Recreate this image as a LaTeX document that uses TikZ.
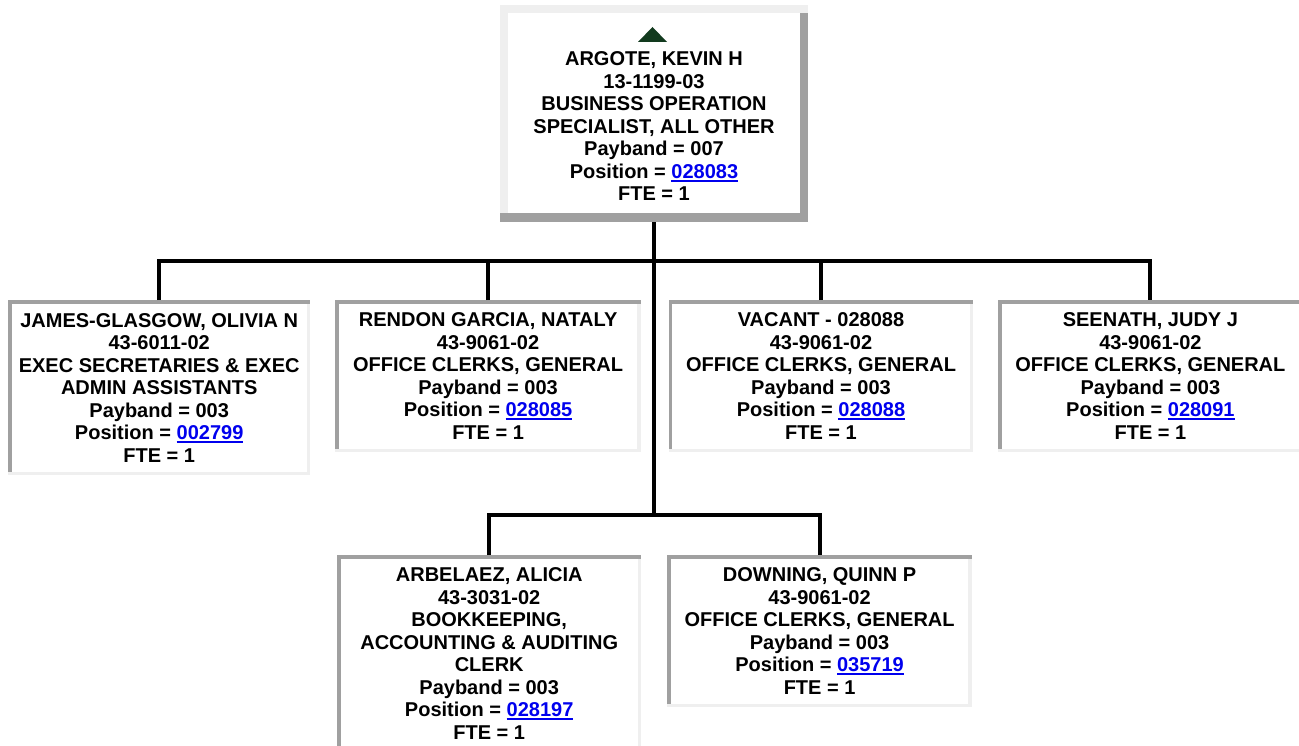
\documentclass[tikz,border=0pt]{standalone}
\usepackage{fontspec}
\setmainfont{Liberation Sans}
\usepackage{tikz}
\usetikzlibrary{positioning}
\definecolor{linkblue}{RGB}{0, 0, 238}
\definecolor{bevdark}{RGB}{160, 160, 160}
\definecolor{bevlight}{RGB}{239, 239, 239}
\definecolor{marker}{RGB}{18, 58, 30}
\newcommand{\poslink}[1]{\textcolor{linkblue}{\setbox0=\hbox{#1}\rlap{\rule[-3.5pt]{\wd0}{2pt}}\box0}}

\begin{document}
\begin{tikzpicture}[
    x=1pt, y=-1pt,
    orgbox/.style={rectangle, fill=white, align=center, inner sep=0pt, font=\fontsize{20}{22.5}\selectfont\bfseries},
    conn/.style={line width=4pt}
]
\useasboundingbox (0,0) rectangle (1299,746);

\node[orgbox, minimum width=308, minimum height=217, anchor=north] (argote) at (654,5) {\rule{0pt}{16.5pt}\\ARGOTE, KEVIN H\\13-1199-03\\BUSINESS OPERATION\\SPECIALIST, ALL OTHER\\Payband = 007\\Position = \poslink{028083}\\FTE = 1};

\node[orgbox, minimum width=302, minimum height=175, anchor=north west] (glasgow) at (8,300) {JAMES-GLASGOW, OLIVIA N\\43-6011-02\\EXEC SECRETARIES \& EXEC\\ADMIN ASSISTANTS\\Payband = 003\\Position = \poslink{002799}\\FTE = 1};
\node[orgbox, minimum width=305, minimum height=152, right=25pt of glasgow.north east, anchor=north west] (rendon) {RENDON GARCIA, NATALY\\43-9061-02\\OFFICE CLERKS, GENERAL\\Payband = 003\\Position = \poslink{028085}\\FTE = 1};
\node[orgbox, minimum width=304, minimum height=152, right=28pt of rendon.north east, anchor=north west] (vacant) {VACANT - 028088\\43-9061-02\\OFFICE CLERKS, GENERAL\\Payband = 003\\Position = \poslink{028088}\\FTE = 1};
\node[orgbox, minimum width=304, minimum height=152, right=25pt of vacant.north east, anchor=north west] (seenath) {SEENATH, JUDY J\\43-9061-02\\OFFICE CLERKS, GENERAL\\Payband = 003\\Position = \poslink{028091}\\FTE = 1};

\node[orgbox, minimum width=304, minimum height=197, anchor=north west] (arbelaez) at (337,555) {ARBELAEZ, ALICIA\\43-3031-02\\BOOKKEEPING,\\ACCOUNTING \& AUDITING\\CLERK\\Payband = 003\\Position = \poslink{028197}\\FTE = 1};
\node[orgbox, minimum width=304, minimum height=152, right=26pt of arbelaez.north east, anchor=north west] (downing) {DOWNING, QUINN P\\43-9061-02\\OFFICE CLERKS, GENERAL\\Payband = 003\\Position = \poslink{035719}\\FTE = 1};

% raised frame and marker of the top box
\fill[bevlight] (argote.north west) rectangle ([shift={(0,8)}]argote.north east);
\fill[bevlight] ([shift={(0,8)}]argote.north west) rectangle ([shift={(8,-9)}]argote.south west);
\fill[bevdark] ([shift={(-8,8)}]argote.north east) rectangle (argote.south east);
\fill[bevdark] ([shift={(0,-9)}]argote.south west) rectangle (argote.south east);
\fill[marker] ([shift={(-16,37)}]argote.north) -- ([shift={(13,37)}]argote.north) -- ([shift={(-1.5,22)}]argote.north) -- cycle;

% sunken frames
\foreach \n in {glasgow, rendon, vacant, seenath, arbelaez, downing} {
    \fill[bevdark] (\n.north west) rectangle ([shift={(0,3.5)}]\n.north east);
    \fill[bevlight] ([shift={(0,-3.5)}]\n.south west) rectangle (\n.south east);
    \fill[bevdark] ([shift={(0,3.5)}]\n.north west) rectangle ([shift={(3.5,-3.5)}]\n.south west);
    \fill[bevlight] ([shift={(-3.5,3.5)}]\n.north east) rectangle ([shift={(0,-3.5)}]\n.south east);
}

\coordinate (split) at (654,261);
\coordinate (split2) at (654,515);

\draw[conn] (argote.south) -- (split2);
\draw[conn] (glasgow.north) |- (split) -| (seenath.north);
\draw[conn] (rendon.north) -- (rendon.north |- split);
\draw[conn] (vacant.north) -- (vacant.north |- split);
\draw[conn] (arbelaez.north) |- (split2) -| (downing.north);

\end{tikzpicture}
\end{document}
